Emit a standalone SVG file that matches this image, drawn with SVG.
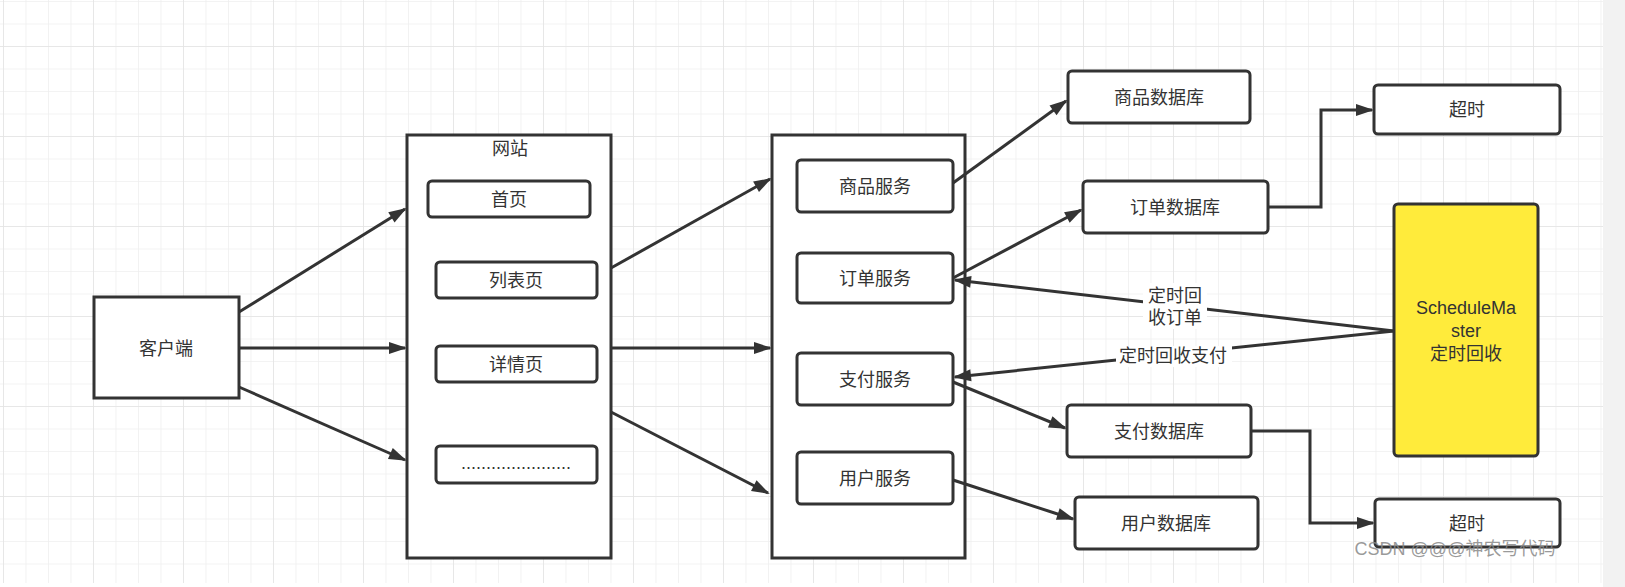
<svg xmlns="http://www.w3.org/2000/svg" width="1625" height="587" viewBox="0 0 1625 587">
<defs>
<pattern id="minor" x="3" y="1" width="22.5" height="22.5" patternUnits="userSpaceOnUse"><path d="M0 0V22.5M0 0H22.5" stroke="#efefef" stroke-width="1.5" fill="none"/></pattern>
<pattern id="major" x="3" y="46" width="90" height="90" patternUnits="userSpaceOnUse"><path d="M0 0V90M0 0H90" stroke="#e4e4e4" stroke-width="1.5" fill="none"/></pattern>
<marker id="a" viewBox="0 0 18 12" refX="16" refY="6" markerWidth="18" markerHeight="12" markerUnits="userSpaceOnUse" orient="auto" style="overflow:visible"><path d="M0 0L18 6L0 12z" fill="#333"/></marker>
<style>
.b{fill:#fff;stroke:#333;stroke-width:3}
.t{font-family:"Liberation Sans","Noto Sans CJK SC",sans-serif;font-size:18px;fill:#333;text-anchor:middle;dominant-baseline:central}
.c path{fill:none;stroke:#333;stroke-width:3;marker-end:url(#a)}
</style>
</defs>
<rect width="1625" height="587" fill="#fff"/>
<rect x="0" y="0" width="1603" height="583" fill="url(#minor)"/>
<rect x="0" y="0" width="1603" height="583" fill="url(#major)"/>
<rect x="1603" y="0" width="22" height="587" fill="#f2f2f2"/>
<g id="client"><rect class="b" x="94" y="297" width="145" height="101"/><text class="t" x="166" y="349">客户端</text></g>
<g id="site"><rect class="b" x="407" y="135" width="204" height="423"/><text class="t" x="510" y="149">网站</text></g>
<g id="home"><rect class="b" x="428" y="181" width="162" height="36" rx="4"/><text class="t" x="509" y="200">首页</text></g>
<g id="list"><rect class="b" x="436" y="262" width="161" height="36" rx="4"/><text class="t" x="516" y="281">列表页</text></g>
<g id="detail"><rect class="b" x="436" y="346" width="161" height="36" rx="4"/><text class="t" x="516" y="365">详情页</text></g>
<g id="more"><rect class="b" x="436" y="446" width="161" height="37" rx="4"/><text class="t" x="516" y="463">......................</text></g>
<g id="services"><rect class="b" x="772" y="135" width="193" height="423"/></g>
<g id="goods"><rect class="b" x="797" y="160" width="156" height="52" rx="4"/><text class="t" x="875" y="187">商品服务</text></g>
<g id="order"><rect class="b" x="797" y="253" width="156" height="50" rx="4"/><text class="t" x="875" y="279">订单服务</text></g>
<g id="pay"><rect class="b" x="797" y="353" width="156" height="52" rx="4"/><text class="t" x="875" y="380">支付服务</text></g>
<g id="user"><rect class="b" x="797" y="452" width="156" height="52" rx="4"/><text class="t" x="875" y="479">用户服务</text></g>
<g id="goodsdb"><rect class="b" x="1068" y="71" width="182" height="52" rx="4"/><text class="t" x="1159" y="98">商品数据库</text></g>
<g id="orderdb"><rect class="b" x="1083" y="181" width="185" height="52" rx="4"/><text class="t" x="1175" y="208">订单数据库</text></g>
<g id="paydb"><rect class="b" x="1067" y="405" width="184" height="52" rx="4"/><text class="t" x="1159" y="432">支付数据库</text></g>
<g id="userdb"><rect class="b" x="1075" y="497" width="183" height="52" rx="4"/><text class="t" x="1166" y="524">用户数据库</text></g>
<g id="timeout1"><rect class="b" x="1374" y="85" width="186" height="49" rx="4"/><text class="t" x="1467" y="110">超时</text></g>
<g id="timeout2"><rect class="b" x="1375" y="499" width="185" height="48" rx="4"/><text class="t" x="1467" y="524">超时</text></g>
<g id="sm"><rect x="1394" y="204" width="144" height="252" rx="4" fill="#ffeb3b" stroke="#333" stroke-width="3"/><text class="t" x="1466" y="308">ScheduleMa</text><text class="t" x="1466" y="331">ster</text><text class="t" x="1466" y="354">定时回收</text></g>
<g class="c" id="connectors">
<path d="M239 312L405 209"/>
<path d="M239 348H405"/>
<path d="M239 387L405 460"/>
<path d="M611 268L770 179"/>
<path d="M611 348H770"/>
<path d="M611 412L768 493"/>
<path d="M953 183L1066 101"/>
<path d="M953 278L1081 210"/>
<path d="M953 382L1065 428"/>
<path d="M953 480L1073 519"/>
<path d="M1268 207H1321V110H1372"/>
<path d="M1251 431H1310V523H1373"/>
<path d="M1394 331L955 280"/>
<path d="M1394 331L955 377"/>
</g>
<rect x="1143" y="283" width="64" height="46" fill="#fff"/>
<text class="t" x="1175" y="296">定时回</text>
<text class="t" x="1175" y="318">收订单</text>
<rect x="1116" y="346" width="116" height="21" fill="#fff"/>
<text class="t" x="1173" y="356">定时回收支付</text>
<text x="1455" y="555" style="font-family:'Liberation Sans','Noto Sans CJK SC',sans-serif;font-size:18px;fill:#888;fill-opacity:0.85;text-anchor:middle">CSDN @@@神农写代码</text>
</svg>
